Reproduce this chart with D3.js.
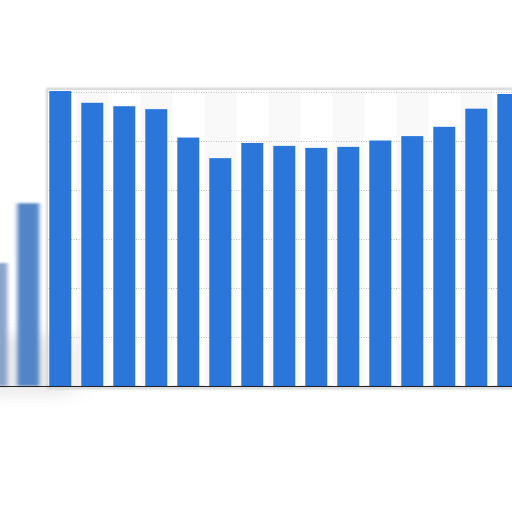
<!DOCTYPE html>
<html>
<head>
<meta charset="utf-8">
<script src="https://cdn.jsdelivr.net/npm/d3@7"></script>
<style>
  body { margin: 0; background: #fff; }
  svg { display: block; }
</style>
</head>
<body>
<svg class="viz" width="512" height="512"></svg>
<script>
// categories (no labels visible in the picture) and bar values, in grid units
var categories = ["1","2","3","4","5","6","7","8","9","10","11","12","13","14","15","16","17"];
var values = [2.51, 3.73, 6.02, 5.78, 5.71, 5.65, 5.07, 4.65, 4.96, 4.90, 4.86, 4.88, 5.01, 5.10, 5.29, 5.66, 5.96];
var gridTicks = [1, 2, 3, 4, 5, 6];
var blurredCount = 2; // first bars sit outside the frame, out of focus

var svg = d3.select(".viz");
var baseY = 386, topY = 92;

var x = d3.scaleBand()
    .domain(categories)
    .range([-19.7, -19.7 + 32 * categories.length])
    .paddingInner(0.3125)
    .paddingOuter(0.15625);

var y = d3.scaleLinear()
    .domain([0, 6])
    .range([baseY, topY]);

var defs = svg.append("defs");
defs.append("filter").attr("id", "soft")
    .attr("x", "-50%").attr("width", "200%")
    .append("feGaussianBlur").attr("stdDeviation", "2.2 1");
defs.append("filter").attr("id", "haze")
    .attr("x", "-50%").attr("y", "-50%").attr("width", "200%").attr("height", "200%")
    .append("feGaussianBlur").attr("stdDeviation", "12 8");
defs.append("filter").attr("id", "shadow")
    .attr("x", "-5%").attr("y", "-5%").attr("width", "110%").attr("height", "110%")
    .append("feGaussianBlur").attr("stdDeviation", 1.2);

var frameX = 47.5;

// frame shadow + frame
svg.append("rect")
    .attr("x", frameX).attr("y", 89)
    .attr("width", 540).attr("height", baseY - 89 + 2)
    .attr("fill", "none")
    .attr("stroke", "#c8c8c8")
    .attr("stroke-width", 2)
    .attr("filter", "url(#shadow)");
svg.append("rect")
    .attr("x", frameX).attr("y", 89.5)
    .attr("width", 540).attr("height", baseY - 89.5)
    .attr("fill", "#fff")
    .attr("stroke", "#dadada")
    .attr("stroke-width", 1);

// alternating column stripes
svg.append("g").selectAll("rect")
    .data(categories.filter(function(d, i) { return i >= blurredCount && (i - blurredCount) % 2 === 1; }))
    .enter().append("rect")
    .attr("x", function(d) { return x(d) - 5; })
    .attr("y", topY - 1)
    .attr("width", 32)
    .attr("height", baseY - topY + 1)
    .attr("fill", "#f9f9f9");

// dotted gridlines
svg.append("g").selectAll("line")
    .data(gridTicks)
    .enter().append("line")
    .attr("x1", frameX + 1).attr("x2", 512)
    .attr("y1", function(d) { return y(d) + 0.5; })
    .attr("y2", function(d) { return y(d) + 0.5; })
    .attr("stroke", "#c4c4c4")
    .attr("stroke-width", 1)
    .attr("stroke-dasharray", "1,1.5");

// soft grey haze at the lower left
svg.append("rect")
    .attr("x", -20).attr("y", 335).attr("width", 95).attr("height", 60)
    .attr("fill", "#d8d8d8").attr("opacity", 0.55)
    .attr("filter", "url(#haze)");

// out-of-focus bars on the left
var soft = svg.append("g").attr("filter", "url(#soft)");
soft.selectAll(".sbar")
    .data(categories.slice(0, blurredCount))
    .enter().append("rect")
    .attr("class", "sbar")
    .attr("x", function(d) { return x(d); })
    .attr("y", function(d, i) { return y(values[i]); })
    .attr("width", x.bandwidth())
    .attr("height", function(d, i) { return baseY - y(values[i]); })
    .attr("fill", function(d, i) { return i === 0 ? "#8aa3cc" : "#5385c6"; });

// in-focus bars
svg.append("g").selectAll(".bar")
    .data(categories.slice(blurredCount))
    .enter().append("rect")
    .attr("class", "bar")
    .attr("x", function(d) { return x(d); })
    .attr("y", function(d, i) { return y(values[i + blurredCount]); })
    .attr("width", x.bandwidth())
    .attr("height", function(d, i) { return baseY - y(values[i + blurredCount]); })
    .attr("fill", "#2a77d9");

// baseline
svg.append("line")
    .attr("x1", 0).attr("x2", 512)
    .attr("y1", baseY + 2.5).attr("y2", baseY + 2.5)
    .attr("stroke", "#d4d4d4").attr("stroke-width", 2)
    .attr("filter", "url(#shadow)");
svg.append("line")
    .attr("x1", 0).attr("x2", 512)
    .attr("y1", baseY + 0.5).attr("y2", baseY + 0.5)
    .attr("stroke", "#222").attr("stroke-width", 1);
</script>
</body>
</html>
